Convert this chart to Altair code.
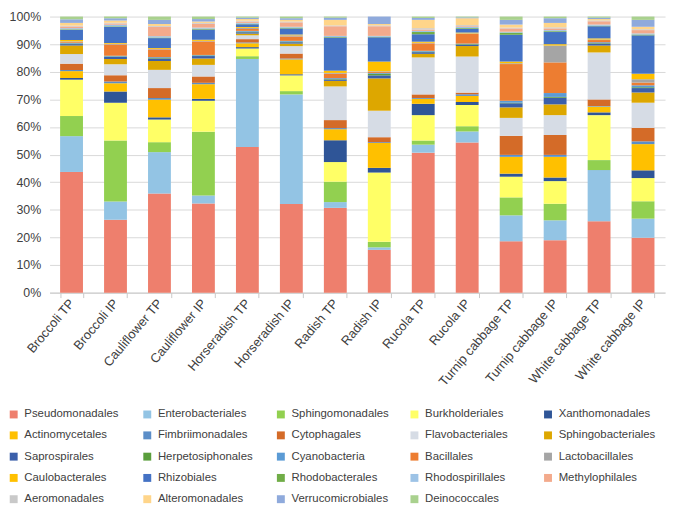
import altair as alt
import pandas as pd

samples = ["Broccoli TP", "Broccoli IP", "Cauliflower TP", "Cauliflower IP",
           "Horseradish TP", "Horseradish IP", "Radish TP", "Radish IP",
           "Rucola TP", "Rucola IP", "Turnip cabbage TP", "Turnip cabbage IP",
           "White cabbage TP", "White cabbage IP"]

orders = ["Pseudomonadales", "Enterobacteriales", "Sphingomonadales", "Burkholderiales",
          "Xanthomonadales", "Actinomycetales", "Fimbriimonadales", "Cytophagales",
          "Flavobacteriales", "Sphingobacteriales", "Saprospirales", "Herpetosiphonales",
          "Cyanobacteria", "Bacillales", "Lactobacillales", "Caulobacterales",
          "Rhizobiales", "Rhodobacterales", "Rhodospirillales", "Methylophilales",
          "Aeromonadales", "Alteromonadales", "Verrucomicrobiales", "Deinococcales"]

colors = ["#EE7F6D", "#93C4E4", "#92D050", "#FFFF66", "#2F5597", "#FFC000",
          "#5B8EC8", "#D46B28", "#D6DCE5", "#DDA700", "#3B5FAA", "#5A9E3C",
          "#5B9BD5", "#ED7D31", "#A5A5A5", "#FFC000", "#4472C4", "#70AD47",
          "#9DC3E6", "#F3AA8C", "#C9C9C9", "#FFD58A", "#8FAADC", "#A9D18E"]

broccoli_tp = [43.8, 13.0, 7.3, 13.2, 0.6, 2.5, 0.4, 2.3, 3.5, 3.1, 0.5, 0.2, 0.3, 0.3, 0.2, 0.5, 3.7, 0.2, 0.4, 0.6, 0.3, 1.0, 1.3, 1.0]
broccoli_ip = [26.5, 6.6, 22.1, 13.7, 4.1, 3.0, 0.6, 2.3, 4.0, 1.9, 0.7, 0.2, 0.3, 4.1, 0.2, 0.3, 5.9, 0.2, 0.5, 0.5, 0.3, 0.8, 0.8, 0.6]
cauliflower_tp = [35.9, 15.0, 3.6, 8.2, 0.8, 6.4, 0.6, 3.6, 6.6, 3.2, 0.9, 0.2, 0.3, 2.8, 0.2, 0.3, 3.6, 0.2, 0.5, 3.4, 0.3, 0.7, 1.5, 1.2]
cauliflower_ip = [32.3, 2.9, 23.1, 11.2, 0.7, 5.3, 0.5, 2.3, 4.2, 2.3, 0.9, 0.2, 0.2, 4.9, 0.2, 0.4, 3.7, 0.3, 0.4, 1.4, 0.3, 0.5, 0.9, 0.9]
horseradish_tp = [52.9, 32.0, 1.0, 2.8, 0.5, 1.4, 0.3, 1.2, 1.4, 0.6, 0.5, 0.2, 0.3, 0.7, 0.4, 0.3, 1.0, 0.2, 0.3, 0.5, 0.3, 0.6, 0.5, 0.4]
horseradish_ip = [32.1, 39.7, 1.2, 5.7, 0.4, 5.4, 0.3, 1.8, 2.7, 0.9, 0.5, 0.2, 0.3, 1.6, 0.4, 0.3, 2.2, 0.3, 0.3, 1.6, 0.3, 0.6, 0.6, 0.6]
radish_tp = [30.7, 2.1, 7.4, 7.1, 7.9, 4.0, 0.4, 2.9, 12.2, 2.0, 0.5, 0.2, 0.3, 1.6, 0.3, 0.8, 12.0, 0.2, 0.4, 3.5, 0.3, 2.0, 0.8, 0.4]
radish_ip = [15.5, 0.9, 2.0, 25.1, 1.7, 9.0, 0.3, 1.8, 9.6, 11.7, 1.1, 0.6, 0.3, 0.4, 0.2, 3.5, 8.8, 0.2, 0.3, 3.5, 0.3, 0.5, 2.7, 0.0]
rucola_tp = [50.7, 2.9, 1.5, 9.2, 4.1, 1.8, 0.3, 1.3, 13.4, 1.3, 0.6, 0.2, 0.3, 2.7, 0.2, 0.4, 2.7, 0.8, 0.4, 0.5, 0.5, 3.0, 0.7, 0.5]
rucola_ip = [54.5, 4.0, 1.9, 7.7, 1.1, 2.2, 0.6, 0.6, 13.1, 3.8, 0.5, 0.2, 0.2, 3.5, 0.2, 0.3, 1.3, 0.3, 0.4, 0.3, 0.4, 2.5, 0.3, 0.3]
turnip_tp = [18.6, 9.4, 6.5, 7.5, 1.1, 6.1, 0.7, 6.9, 6.5, 3.8, 1.5, 0.2, 0.7, 13.3, 0.3, 0.6, 9.7, 0.8, 0.3, 1.2, 0.3, 1.1, 1.7, 1.2]
turnip_ip = [19.0, 7.2, 6.0, 8.2, 1.3, 7.5, 0.7, 7.2, 7.2, 3.9, 2.4, 0.3, 1.4, 11.1, 6.1, 0.5, 4.4, 0.3, 0.4, 0.6, 0.4, 1.6, 1.7, 0.6]
white_tp = [25.9, 18.5, 3.6, 16.3, 1.0, 2.1, 0.2, 2.4, 17.0, 2.5, 0.7, 0.2, 0.3, 0.8, 0.2, 0.4, 4.4, 0.2, 0.4, 1.2, 0.3, 0.5, 0.5, 0.4]
white_ip = [19.9, 6.9, 6.3, 8.4, 2.8, 9.5, 1.0, 4.9, 9.1, 3.7, 1.6, 0.3, 0.7, 1.0, 1.2, 2.0, 13.9, 0.3, 0.4, 1.2, 0.3, 0.9, 2.5, 1.2]

series = [broccoli_tp, broccoli_ip, cauliflower_tp, cauliflower_ip,
          horseradish_tp, horseradish_ip, radish_tp, radish_ip,
          rucola_tp, rucola_ip, turnip_tp, turnip_ip, white_tp, white_ip]

rows = []
for s, vals in zip(samples, series):
    for i, (o, v) in enumerate(zip(orders, vals)):
        rows.append({"sample": s, "order": o, "idx": i, "value": v})
df = pd.DataFrame(rows)

font = "Liberation Sans"
txt = "#404040"

chart = alt.Chart(df).mark_bar().encode(
    x=alt.X("sample:N", sort=samples, title=None,
            scale=alt.Scale(paddingInner=0.48, paddingOuter=0.24),
            axis=alt.Axis(labelAngle=-50, labelAlign="right", labelBaseline="middle",
                          labelFontSize=13, labelColor=txt, labelFont=font,
                          tickBand="extent", tickSize=5, tickColor="#C8C8C8",
                          domainColor="#C8C8C8", labelPadding=3, grid=False)),
    y=alt.Y("value:Q", stack="normalize", title=None,
            axis=alt.Axis(format=".0%", values=[i / 10 for i in range(11)],
                          labelFontSize=12.5, labelColor=txt, labelFont=font,
                          ticks=False, domain=False, labelPadding=9,
                          gridColor="#D9D9D9")),
    color=alt.Color("order:N", sort=orders,
                    scale=alt.Scale(domain=orders, range=colors),
                    legend=alt.Legend(title=None, orient="none", legendX=-42, legendY=396,
                                      direction="horizontal",
                                      columns=5, gridAlign="all", symbolType="square",
                                      symbolSize=64, symbolStrokeWidth=0,
                                      labelFontSize=11.5, labelFont=font, labelColor=txt,
                                      columnPadding=20, rowPadding=8.5, labelOffset=5,
                                      padding=0)),
    order=alt.Order("idx:Q", sort="ascending"),
).properties(
    width=622, height=279,
    padding={"left": 42, "top": 6, "right": 2, "bottom": 216},
    autosize="none",
).configure_view(stroke=None)

chart.save("out.html", embed_options={"renderer": "svg", "actions": False})
